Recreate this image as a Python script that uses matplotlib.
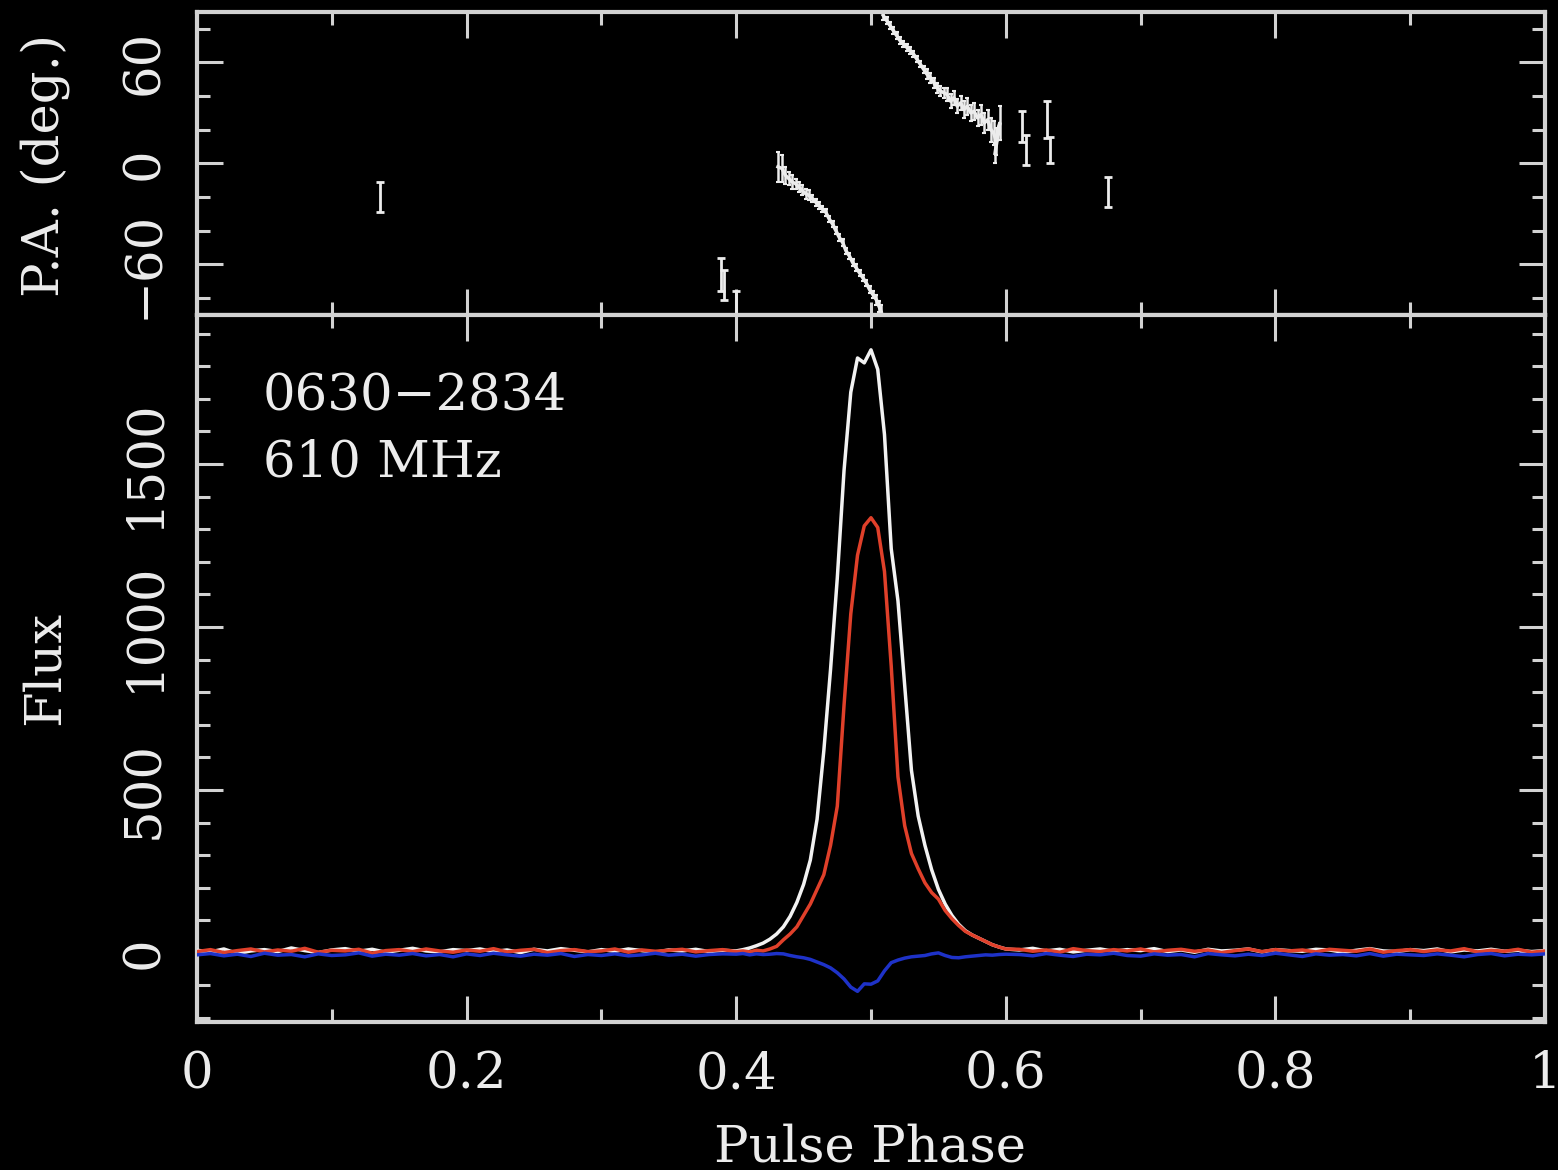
import numpy as np
import matplotlib
matplotlib.use("Agg")
import matplotlib.pyplot as plt
from matplotlib.ticker import MultipleLocator

# pulse profile of 0630-2834 at 610 MHz
# baseline bins (0.01 apart), outside the on-pulse window
base_left = np.round(np.arange(0.0, 0.40, 0.01), 3)
base_right = np.round(np.arange(0.61, 1.001, 0.01), 3)
# on-pulse bins
pulse_ph = np.round(np.arange(0.40, 0.6001, 0.005), 3)

I_left = [8, 3, 12, -2, 6, 10, 4, 15, 7, 1, 9, 13, 5, 11, 2, 8, 14, 6, 3, 10,
          7, 12, 4, 9, 1, 11, 6, 13, 8, 3, 10, 5, 12, 7, 2, 9, 6, 11, 4, 8]
I_pulse = [6, 10, 15, 22, 30, 42, 58, 80, 112, 155, 210, 285, 410, 620, 870,
           1150, 1480, 1720, 1825, 1810, 1850, 1790, 1590, 1240, 1080, 820,
           560, 420, 330, 255, 195, 150, 115, 88, 68, 55, 45, 35, 25, 18, 12]
I_right = [9, 14, 6, 11, 3, 8, 12, 5, 10, 7, 13, 4, 9, 2, 11, 6, 8, 12, 3, 10,
           7, 5, 11, 9, 2, 8, 13, 6, 4, 10, 7, 12, 3, 9, 6, 11, 5, 8, 4, 7]

L_left = [4, 10, 1, 7, 12, 3, 9, 5, 14, 2, 8, 6, 11, -1, 7, 10, 4, 12, 6, 2,
          9, 5, 13, 3, 8, 11, 1, 7, 10, 4, 6, 12, 2, 9, 5, 8, 11, 3, 7, 10]
L_pulse = [4, 6, 3, 8, 6, 12, 20, 40, 58, 80, 115, 150, 195, 240, 330, 450,
           760, 1040, 1220, 1310, 1335, 1305, 1170, 880, 540, 390, 305, 258,
           215, 185, 165, 130, 105, 84, 66, 55, 45, 35, 25, 18, 12]
L_right = [11, 5, 9, 2, 13, 7, 4, 10, 6, 12, 3, 8, 11, 5, 9, 1, 7, 12, 4, 10,
           6, 9, 3, 11, 8, 5, 12, 2, 7, 10, 4, 9, 6, 13, 3, 8, 5, 11, 2, 6]

V_left = [-6, -2, -9, -4, -11, -1, -7, -5, -12, -3, -8, -6, 0, -10, -4, -7, -2,
          -9, -5, -12, -3, -8, -1, -6, -10, -4, -7, -2, -11, -5, -8, -3, -9,
          -6, -1, -7, -4, -10, -5, -3]
V_pulse = [-4, -2, -6, -3, -5, -4, -2, -3, -8, -12, -15, -20, -28, -36, -46,
           -61, -80, -105, -118, -95, -96, -86, -55, -30, -22, -16, -12, -10,
           -8, -3, 0, -8, -14, -15, -12, -10, -8, -6, -7, -5, -4]
V_right = [-5, -9, -2, -7, -11, -4, -6, -1, -8, -10, -3, -7, -5, -12, -2, -6,
           -9, -4, -8, -1, -6, -11, -3, -7, -5, -9, -2, -10, -4, -6, -8, -3,
           -7, -12, -5, -2, -9, -4, -6, -3]

# position angle: isolated points
pa_ph_iso = [0.136, 0.389, 0.391, 0.400, 0.612, 0.615, 0.6305, 0.633, 0.676]
pa_deg_iso = [-20, -66, -72, -84, 22, 8, 26, 8, -17]
pa_err_iso = [9, 10, 9, 8, 9, 9, 11, 8, 9]

# position angle: the two swept tracks
pa_ph_a = [0.4310, 0.4340, 0.4365, 0.4390, 0.4415, 0.4440, 0.4465, 0.4490,
           0.4515, 0.4540, 0.4565, 0.4590, 0.4615, 0.4640, 0.4665, 0.4690,
           0.4715, 0.4740, 0.4765, 0.4790, 0.4815, 0.4840, 0.4865, 0.4890,
           0.4915, 0.4940, 0.4965, 0.4990, 0.5015, 0.5040, 0.5060, 0.5075]
pa_deg_a = [-2, -3, -7, -9, -11, -12, -14, -16,
            -18, -19, -21, -23, -25, -27, -29, -33,
            -36, -40, -44, -47, -52, -55, -59, -62,
            -65, -68, -71, -75, -78, -81, -85, -88]
pa_err_a = [9, 8, 5, 4, 4, 3, 3, 3,
            3, 3, 2, 2, 2, 2, 2, 2,
            2, 2, 2, 2, 2, 2, 2, 2,
            2, 2, 2, 2, 2, 3, 3, 4]

pa_ph_b = [0.5090, 0.5115, 0.5140, 0.5165, 0.5190, 0.5215, 0.5240, 0.5265,
           0.5290, 0.5315, 0.5340, 0.5365, 0.5390, 0.5415, 0.5440, 0.5465,
           0.5490, 0.5515, 0.5540, 0.5565, 0.5590, 0.5615, 0.5640, 0.5665,
           0.5690, 0.5715, 0.5740, 0.5765, 0.5790, 0.5815, 0.5840, 0.5865,
           0.5890, 0.5910, 0.5930, 0.5955, 0.5920]
pa_deg_b = [88, 85, 82, 79, 76, 73, 71, 69,
            67, 65, 62, 59, 56, 53, 51, 48,
            45, 43, 42, 41, 37, 39, 34, 36,
            32, 34, 30, 31, 27, 29, 24, 26,
            20, 18, 13, 24, 6]
pa_err_b = [3, 2, 2, 2, 2, 2, 2, 2,
            2, 2, 2, 2, 2, 3, 3, 3,
            3, 3, 3, 4, 4, 4, 4, 4,
            5, 5, 5, 5, 5, 6, 6, 6,
            7, 7, 8, 10, 6]

phase = np.concatenate([base_left, pulse_ph, base_right])
I = np.concatenate([I_left, I_pulse, I_right])
L = np.concatenate([L_left, L_pulse, L_right])
V = np.concatenate([V_left, V_pulse, V_right])

fg = '#ececec'
frame = '#d2d2d2'
plt.rcParams['font.family'] = ['DejaVu Serif']
plt.rcParams['font.size'] = 37
plt.rcParams['axes.unicode_minus'] = True

fig = plt.figure(figsize=(15.58, 11.70), dpi=100, facecolor='black')
ax1 = fig.add_axes([0.1264, 0.7308, 0.8653, 0.2590])
ax2 = fig.add_axes([0.1264, 0.1265, 0.8653, 0.6043])

for ax in (ax1, ax2):
    ax.set_facecolor('black')
    for s in ax.spines.values():
        s.set_color(frame)
        s.set_linewidth(3)
    ax.tick_params(which='both', direction='in', top=True, right=True,
                   colors=frame, labelcolor=fg, width=2.2)
    ax.tick_params(which='major', length=19)
    ax.tick_params(which='minor', length=9.5)
    ax.set_xlim(0, 1)
    ax.xaxis.set_major_locator(MultipleLocator(0.2))
    ax.xaxis.set_minor_locator(MultipleLocator(0.1))

# P.A. panel
ax1.errorbar(pa_ph_iso, pa_deg_iso, yerr=pa_err_iso, fmt='none', ecolor=fg,
             elinewidth=2, capsize=3, capthick=2)
for ph, deg, err in ((pa_ph_a, pa_deg_a, pa_err_a),
                     (pa_ph_b, pa_deg_b, pa_err_b)):
    ax1.errorbar(ph, deg, yerr=err, fmt='none', ecolor=fg,
                 elinewidth=1.8, capsize=1.5, capthick=1.5)
    ax1.plot(ph, deg, color=fg, lw=2.5)
ax1.set_ylim(-90, 90)
ax1.yaxis.set_major_locator(MultipleLocator(60))
ax1.yaxis.set_minor_locator(MultipleLocator(20))
ax1.tick_params(axis='x', labelbottom=False)
ax1.tick_params(axis='y', labelrotation=90, pad=20)
for lab in ax1.get_yticklabels():
    lab.set_va('center')

# Flux panel
ax2.plot(phase, I, color='#f2f2f2', lw=2.5, zorder=3)
ax2.plot(phase, L, color='#e0402a', lw=2.5, zorder=4)
ax2.plot(phase, V, color='#1e32c8', lw=2.5, zorder=5)
ax2.set_ylim(-212, 1957)
ax2.yaxis.set_major_locator(MultipleLocator(500))
ax2.yaxis.set_minor_locator(MultipleLocator(100))
ax2.tick_params(axis='y', labelrotation=90, pad=20)
ax2.tick_params(axis='x', pad=20)
for lab in ax2.get_yticklabels():
    lab.set_va('center')
ax2.set_xticks([0, 0.2, 0.4, 0.6, 0.8, 1.0])
ax2.set_xticklabels(['0', '0.2', '0.4', '0.6', '0.8', '1'])

ax2.text(0.049, 0.866, '0630\u22122834', transform=ax2.transAxes,
         color=fg, va='baseline', ha='left')
ax2.text(0.049, 0.771, '610 MHz', transform=ax2.transAxes,
         color=fg, va='baseline', ha='left')

fig.text(45 / 1558, 1 - 165 / 1170, 'P.A. (deg.)', rotation=90,
         color=fg, ha='center', va='center')
fig.text(45 / 1558, 1 - 668 / 1170, 'Flux', rotation=90,
         color=fg, ha='center', va='center')
fig.text(870 / 1558, 1 - 1162 / 1170, 'Pulse Phase', color=fg,
         ha='center', va='baseline')

fig.savefig('out.png', dpi=100, facecolor='black')
